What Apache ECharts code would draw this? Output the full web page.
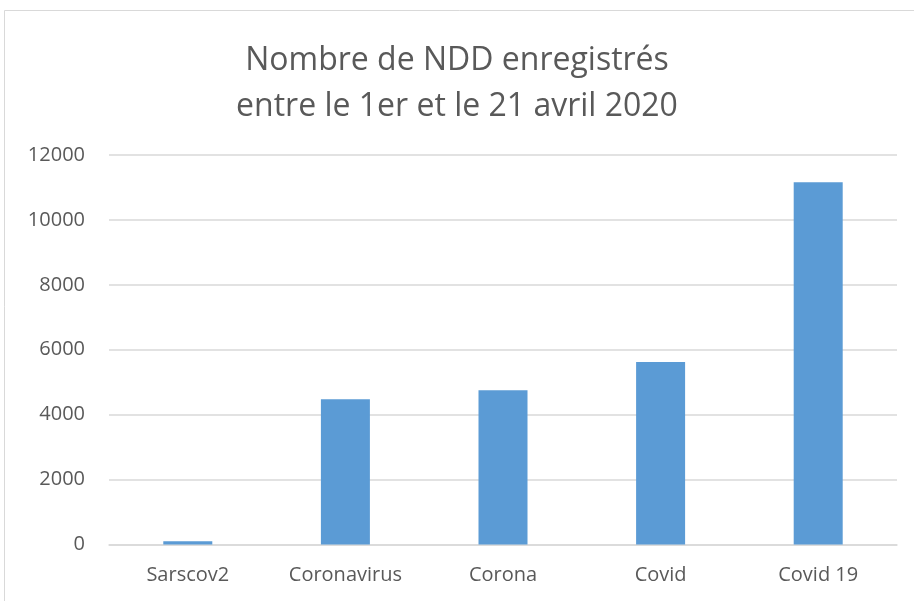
<!DOCTYPE html>
<html lang="fr">
<head>
    <meta charset="UTF-8" />
    <title>Nombre de NDD enregistrés</title>
    <script src="https://cdn.jsdelivr.net/npm/echarts@6.0.0/dist/echarts.min.js"></script>
    <style>
        html, body { margin: 0; padding: 0; background: #fff; overflow: hidden; }
        #chart { width: 914px; height: 601px; }
    </style>
</head>
<body>
<div id="chart"></div>
<script>
    const categories = ['Sarscov2', 'Coronavirus', 'Corona', 'Covid', 'Covid 19'];
    const counts = [100, 4475, 4752, 5624, 11160];
    const titleLines = ['Nombre de NDD enregistrés', 'entre le 1er et le 21 avril 2020'];

    const textColor = '#595959';
    const font = '"Open Sans", "Noto Sans", sans-serif';

    const chart = echarts.init(document.getElementById('chart'));
    chart.setOption({
        animation: false,
        backgroundColor: '#fff',
        // chart frame, cut off at the right and bottom like the source
        graphic: [{
            type: 'rect',
            shape: { x: 4.5, y: 10.5, width: 1000, height: 700 },
            style: { fill: 'none', stroke: '#d9d9d9', lineWidth: 1 },
            silent: true
        }],
        title: {
            text: titleLines.join('\n'),
            left: 'center',
            top: 33,
            padding: [5, 0, 0, 12],
            textStyle: {
                color: textColor,
                fontFamily: font,
                fontSize: 32,
                fontWeight: 'normal',
                lineHeight: 46
            }
        },
        grid: { left: 109, right: 17, top: 155, bottom: 56.5 },
        xAxis: {
            type: 'category',
            data: categories,
            axisLine: { lineStyle: { color: '#d9d9d9', width: 1.5 } },
            axisTick: { show: false },
            axisLabel: { color: textColor, fontFamily: font, fontSize: 20, margin: 21 }
        },
        yAxis: {
            type: 'value',
            min: 0,
            max: 12000,
            interval: 2000,
            axisLine: { show: false },
            axisTick: { show: false },
            splitLine: { lineStyle: { color: '#d9d9d9', width: 1.5 } },
            axisLabel: {
                color: textColor, fontFamily: font, fontSize: 20, margin: 24,
                formatter: v => String(v)
            }
        },
        series: [{
            type: 'bar',
            data: counts,
            barWidth: 49,
            itemStyle: { color: '#5b9bd5' }
        }]
    });
</script>
</body>
</html>
